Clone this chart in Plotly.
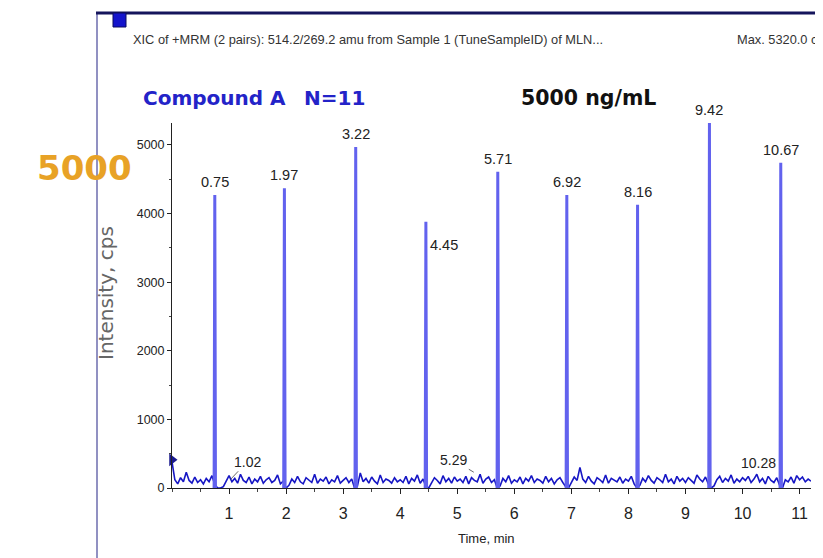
import plotly.graph_objects as go

# --- data ---
peak_times = [0.75, 1.97, 3.22, 4.45, 5.71, 6.92, 8.16, 9.42, 10.67]
peak_heights = [4270, 4370, 4970, 3880, 4610, 4270, 4130, 5320, 4740]
peak_labels = ["0.75", "1.97", "3.22", "4.45", "5.71", "6.92", "8.16", "9.42", "10.67"]

small_peak_times = [1.02, 5.29, 10.28]
small_peak_labels = ["1.02", "5.29", "10.28"]

noise_time = [
    0.00, 0.05, 0.10, 0.15, 0.20, 0.25, 0.30, 0.35, 0.40, 0.45, 0.50, 0.55, 0.60, 0.65, 0.70, 0.75, 0.80, 0.85, 0.90, 0.95,
    1.00, 1.05, 1.10, 1.15, 1.20, 1.25, 1.30, 1.35, 1.40, 1.45, 1.50, 1.55, 1.60, 1.65, 1.70, 1.75, 1.80, 1.85, 1.90, 1.95,
    2.00, 2.05, 2.10, 2.15, 2.20, 2.25, 2.30, 2.35, 2.40, 2.45, 2.50, 2.55, 2.60, 2.65, 2.70, 2.75, 2.80, 2.85, 2.90, 2.95,
    3.00, 3.05, 3.10, 3.15, 3.20, 3.25, 3.30, 3.35, 3.40, 3.45, 3.50, 3.55, 3.60, 3.65, 3.70, 3.75, 3.80, 3.85, 3.90, 3.95,
    4.00, 4.05, 4.10, 4.15, 4.20, 4.25, 4.30, 4.35, 4.40, 4.45, 4.50, 4.55, 4.60, 4.65, 4.70, 4.75, 4.80, 4.85, 4.90, 4.95,
    5.00, 5.05, 5.10, 5.15, 5.20, 5.25, 5.30, 5.35, 5.40, 5.45, 5.50, 5.55, 5.60, 5.65, 5.70, 5.75, 5.80, 5.85, 5.90, 5.95,
    6.00, 6.05, 6.10, 6.15, 6.20, 6.25, 6.30, 6.35, 6.40, 6.45, 6.50, 6.55, 6.60, 6.65, 6.70, 6.75, 6.80, 6.85, 6.90, 6.95,
    7.00, 7.05, 7.10, 7.15, 7.20, 7.25, 7.30, 7.35, 7.40, 7.45, 7.50, 7.55, 7.60, 7.65, 7.70, 7.75, 7.80, 7.85, 7.90, 7.95,
    8.00, 8.05, 8.10, 8.15, 8.20, 8.25, 8.30, 8.35, 8.40, 8.45, 8.50, 8.55, 8.60, 8.65, 8.70, 8.75, 8.80, 8.85, 8.90, 8.95,
    9.00, 9.05, 9.10, 9.15, 9.20, 9.25, 9.30, 9.35, 9.40, 9.45, 9.50, 9.55, 9.60, 9.65, 9.70, 9.75, 9.80, 9.85, 9.90, 9.95,
    10.00, 10.05, 10.10, 10.15, 10.20, 10.25, 10.30, 10.35, 10.40, 10.45, 10.50, 10.55, 10.60, 10.65, 10.70, 10.75, 10.80, 10.85, 10.90, 10.95,
    11.00, 11.05, 11.10, 11.15, 11.20,
]
noise_cps = [
    380, 120, 60, 150, 90, 230, 110, 70, 160, 80, 120, 60, 140, 90, 180, 50, 0, 0, 20, 90,
    180, 90, 140, 70, 200, 110, 80, 160, 60, 130, 90, 170, 70, 120, 150, 80, 110, 190, 60, 100,
    0, 40, 130, 80, 170, 90, 60, 150, 110, 80, 200, 70, 130, 100, 160, 60, 120, 90, 180, 70,
    110, 150, 80, 130, 0, 30, 220, 90, 140, 70, 160, 100, 60, 190, 80, 130, 110, 70, 150, 90,
    120, 80, 170, 60, 140, 100, 190, 70, 130, 20, 0, 80, 150, 110, 60, 180, 90, 140, 70, 160,
    100, 130, 80, 170, 60, 150, 110, 90, 200, 70, 130, 160, 80, 120, 0, 30, 140, 90, 180, 70,
    120, 90, 160, 60, 140, 100, 180, 80, 130, 110, 70, 170, 90, 140, 60, 120, 150, 80, 20, 0,
    90, 160, 110, 300, 130, 80, 170, 100, 60, 150, 120, 80, 190, 70, 140, 110, 90, 160, 70, 130,
    100, 170, 60, 0, 40, 140, 90, 180, 110, 70, 150, 120, 80, 200, 90, 130, 60, 170, 100, 140,
    80, 150, 110, 70, 190, 130, 90, 160, 60, 0, 30, 120, 170, 80, 140, 100, 190, 70, 130, 90,
    150, 110, 170, 80, 130, 200, 90, 140, 60, 170, 110, 80, 150, 40, 0, 120, 90, 160, 70, 180,
    120, 160, 90, 130, 100,
]

threshold_cps = 410
y_ticks = [0, 1000, 2000, 3000, 4000, 5000]
x_ticks = [1, 2, 3, 4, 5, 6, 7, 8, 9, 10, 11]

# page has an 8px body margin, so lay out in window pixels and shift
OFF = 8
W, H = 823 - OFF, 558 - OFF
L, R, T, B = 172 - OFF, 811 - OFF, 123 - OFF, 488 - OFF


def px(x):
    return (x - OFF - L) / (R - L)


def py(y):
    return (B - (y - OFF)) / (B - T)


ARIAL = "Liberation Sans, Arial, sans-serif"
BOLD = "DejaVu Sans, Verdana, sans-serif"

# peaks as narrow spikes
spike_x, spike_y = [], []
for t, h in zip(peak_times, peak_heights):
    spike_x += [t - 0.012, t, t + 0.012, None]
    spike_y += [0, h, 0, None]

fig = go.Figure()
fig.add_trace(go.Scatter(x=noise_time, y=noise_cps, mode="lines",
                         line=dict(color="#1616c4", width=1.6), hoverinfo="skip"))
fig.add_trace(go.Scatter(x=spike_x, y=spike_y, mode="lines",
                         line=dict(color="#6262ee", width=3), hoverinfo="skip"))
fig.add_trace(go.Scatter(x=[0], y=[threshold_cps], mode="markers", cliponaxis=False,
                         marker=dict(symbol="triangle-right", size=11, color="#1a1a90"),
                         hoverinfo="skip"))

ann = []
for t, h, lab in zip(peak_times, peak_heights, peak_labels):
    if lab == "4.45":
        ann.append(dict(x=t, y=3540, text=lab, showarrow=False, xanchor="left", xshift=2,
                        font=dict(family=ARIAL, size=14.5, color="#222")))
    else:
        ann.append(dict(x=t, y=h, text=lab, showarrow=False, xanchor="center",
                        yanchor="bottom", yshift=3,
                        font=dict(family=ARIAL, size=14.5, color="#222")))

# small peaks with leader lines
ann.append(dict(x=small_peak_times[0], y=120, text=small_peak_labels[0], showarrow=True,
                arrowhead=0, arrowwidth=0.8, arrowcolor="#444", ax=17, ay=-18,
                font=dict(family=ARIAL, size=14, color="#222")))
ann.append(dict(x=small_peak_times[1], y=230, text=small_peak_labels[1], showarrow=True,
                arrowhead=0, arrowwidth=0.8, arrowcolor="#444", ax=-20, ay=-12,
                font=dict(family=ARIAL, size=14, color="#222")))
ann.append(dict(x=small_peak_times[2], y=364, text=small_peak_labels[2], showarrow=False,
                font=dict(family=ARIAL, size=14, color="#222")))

# header texts
ann += [
    dict(xref="paper", yref="paper", x=px(131), y=py(30), xanchor="left",
         text="XIC of +MRM (2 pairs): 514.2/269.2 amu from Sample 1 (TuneSampleID) of MLN...",
         showarrow=False, font=dict(family=ARIAL, size=12.8, color="#333")),
    dict(xref="paper", yref="paper", x=px(735), y=py(30), xanchor="left",
         text="Max. 5320.0 cps", showarrow=False, font=dict(family=ARIAL, size=12.8, color="#333")),
    dict(xref="paper", yref="paper", x=px(141), y=py(84), xanchor="left",
         text="<b>Compound A</b>", showarrow=False, font=dict(family=BOLD, size=20, color="#2323c8")),
    dict(xref="paper", yref="paper", x=px(302), y=py(84), xanchor="left",
         text="<b>N=11</b>", showarrow=False, font=dict(family=BOLD, size=20, color="#2323c8")),
    dict(xref="paper", yref="paper", x=px(519), y=py(84), xanchor="left",
         text="<b>5000 ng/mL</b>", showarrow=False, font=dict(family=BOLD, size=20.5, color="#111")),
    dict(xref="paper", yref="paper", x=px(84), y=py(146), xanchor="center", text="<b>5000</b>",
         showarrow=False, font=dict(family=BOLD, size=34, color="#e8a226")),
    dict(xref="paper", yref="paper", x=px(106), y=py(293), xanchor="center",
         text="Intensity, cps", textangle=-90,
         showarrow=False, font=dict(family=BOLD, size=20, color="#666")),
    dict(xref="paper", yref="paper", x=px(486), y=py(548), xanchor="center", text="Time, min",
         showarrow=False, font=dict(family=ARIAL, size=13, color="#222")),
]

shapes = [
    dict(type="line", xref="paper", yref="paper", x0=px(97), x1=px(97), y0=py(565), y1=py(13),
         line=dict(color="#6c6cae", width=1.5)),
    dict(type="line", xref="paper", yref="paper", x0=px(96), x1=px(830), y0=py(13), y1=py(13),
         line=dict(color="#15155c", width=3)),
    dict(type="rect", xref="paper", yref="paper", x0=px(113), x1=px(126), y0=py(27), y1=py(13),
         fillcolor="#1414cc", line=dict(color="#0b0b60", width=1)),
]

fig.update_layout(
    width=W, height=H,
    margin=dict(l=L, r=W - R, t=T, b=H - B),
    paper_bgcolor="white", plot_bgcolor="white",
    showlegend=False,
    annotations=ann, shapes=shapes,
    xaxis=dict(range=[0, 11.2], tickvals=x_ticks, showgrid=False, zeroline=False,
               showline=True, linecolor="#222", linewidth=1, ticks="outside", ticklen=5,
               tickcolor="#222", ticklabelstandoff=6,
               tickfont=dict(family=ARIAL, size=16, color="#222"),
               minor=dict(dtick=0.5, ticks="outside", ticklen=3, tickcolor="#444")),
    yaxis=dict(range=[0, 5320], tickvals=y_ticks, showgrid=False, zeroline=False,
               showline=True, linecolor="#222", linewidth=1, ticks="outside", ticklen=4,
               tickcolor="#222", tickfont=dict(family=ARIAL, size=12.5, color="#222"),
               minor=dict(dtick=500, ticks="outside", ticklen=2, tickcolor="#444")),
)

fig.write_html("out.html")
